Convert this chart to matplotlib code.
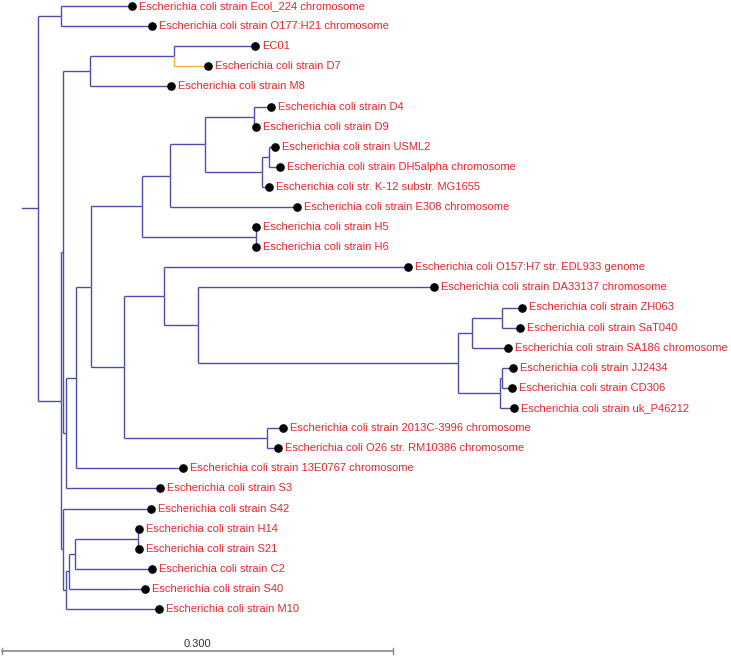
import matplotlib
matplotlib.use("Agg")
import matplotlib.pyplot as plt

# ---------------- data ----------------
tip_labels = [
    "Escherichia coli strain Ecol_224 chromosome",
    "Escherichia coli strain O177:H21 chromosome",
    "EC01",
    "Escherichia coli strain D7",
    "Escherichia coli strain M8",
    "Escherichia coli strain D4",
    "Escherichia coli strain D9",
    "Escherichia coli strain USML2",
    "Escherichia coli strain DH5alpha chromosome",
    "Escherichia coli str. K-12 substr. MG1655",
    "Escherichia coli strain E308 chromosome",
    "Escherichia coli strain H5",
    "Escherichia coli strain H6",
    "Escherichia coli O157:H7 str. EDL933 genome",
    "Escherichia coli strain DA33137 chromosome",
    "Escherichia coli strain ZH063",
    "Escherichia coli strain SaT040",
    "Escherichia coli strain SA186 chromosome",
    "Escherichia coli strain JJ2434",
    "Escherichia coli strain CD306",
    "Escherichia coli strain uk_P46212",
    "Escherichia coli strain 2013C-3996 chromosome",
    "Escherichia coli O26 str. RM10386 chromosome",
    "Escherichia coli strain 13E0767 chromosome",
    "Escherichia coli strain S3",
    "Escherichia coli strain S42",
    "Escherichia coli strain H14",
    "Escherichia coli strain S21",
    "Escherichia coli strain C2",
    "Escherichia coli strain S40",
    "Escherichia coli strain M10",
]

# tree topology with branch lengths (tips refer to tip_labels by index)
newick = (
    "((t0:0.0547,t1:0.0701):0.0176,"
    "((((t2:0.0621,t3:0.0263):0.0645,t4:0.0621):0.0207,"
    "(((((((t5:0.0128,t6:0.0015):0.0376,((t7:0.0048,t8:0.0084):0.0056,t9:0.0054):0.0435):0.0269,"
    "t10:0.0972):0.0217,(t11:0.0003,t12:0.0003):0.0875):0.0391,"
    "((t13:0.1877,(t14:0.1808,"
    "(((t15:0.0158,t16:0.0140):0.0230,t17:0.0281):0.0103,"
    "((t18:0.0087,t19:0.0074):0.0015,t20:0.0110):0.0320):0.1995):0.0265):0.0305,"
    "(t21:0.0123,t22:0.0089):0.1095):0.0256):0.0113,"
    "t23:0.0819):0.0077,t24:0.0724):0.0023):0.0015,"
    "(t25:0.0671,((((t26:0.0005,t27:0.0005):0.0486,t28:0.0591):0.0044,"
    "t29:0.0578):0.0028,t30:0.0718):0.0018):0.0018):0.0176):0.0123;"
)

highlighted_tips = ["Escherichia coli strain D7"]
scale_length = 0.300
scale_label = "0.300"

# ---------------- styles ----------------
W, H, DPI = 731, 658, 100
BRANCH_COLOR = "#4d4db0"
HIGHLIGHT_COLOR = "#f2b437"
LABEL_COLOR = "#e8242c"
SCALE_COLOR = "#8a8a8a"
FONT = "Liberation Sans"
FONTSIZE = 8


# ---------------- newick parsing ----------------
def parse_newick(s):
    s = s.strip().rstrip(";")
    pos = [0]

    def node():
        n = {"children": [], "name": None, "length": 0.0}
        if s[pos[0]] == "(":
            pos[0] += 1
            n["children"].append(node())
            while s[pos[0]] == ",":
                pos[0] += 1
                n["children"].append(node())
            pos[0] += 1  # ')'
        start = pos[0]
        while pos[0] < len(s) and s[pos[0]] not in ",():":
            pos[0] += 1
        name = s[start:pos[0]]
        if name:
            n["name"] = name
        if pos[0] < len(s) and s[pos[0]] == ":":
            pos[0] += 1
            start = pos[0]
            while pos[0] < len(s) and s[pos[0]] not in ",()":
                pos[0] += 1
            n["length"] = float(s[start:pos[0]])
        return n

    return node()


tree = parse_newick(newick)


def layout(n, x0=0.0, counter=[0]):
    n["x"] = x0
    if not n["children"]:
        idx = int(n["name"][1:])
        n["label"] = tip_labels[idx]
        n["y"] = float(counter[0])
        counter[0] += 1
    else:
        for c in n["children"]:
            layout(c, x0 + c["length"], counter)
        n["y"] = (n["children"][0]["y"] + n["children"][-1]["y"]) / 2.0


layout(tree, 0.0)

# ---------------- figure ----------------
fig = plt.figure(figsize=(W / DPI, H / DPI), dpi=DPI)
ax = fig.add_axes([0, 0, 1, 1])
ax.set_axis_off()

px_per_unit = 391 / 0.3
root_px = 38
ax.set_xlim(-root_px / px_per_unit, (W - root_px) / px_per_unit)
row_px = 20.1
top_px = 6
ax.set_ylim((H - top_px) / row_px, -top_px / row_px)

LW = 1.0


def draw(n):
    for c in n["children"]:
        col = HIGHLIGHT_COLOR if c.get("label") in highlighted_tips else BRANCH_COLOR
        ax.plot([n["x"], n["x"]], [n["y"], c["y"]], color=col, lw=LW,
                solid_capstyle="butt", zorder=2)
        ax.plot([n["x"], c["x"]], [c["y"], c["y"]], color=col, lw=LW,
                solid_capstyle="butt", zorder=2)
        draw(c)
    if not n["children"]:
        ax.plot(n["x"], n["y"], "o", color="black", ms=5.2, zorder=3)
        ax.annotate(n["label"], (n["x"], n["y"]), xytext=(5, 0),
                    textcoords="offset points", ha="left", va="center",
                    color=LABEL_COLOR, fontsize=FONTSIZE, family=FONT)


# root stub
ax.plot([-tree["length"], 0], [tree["y"], tree["y"]], color=BRANCH_COLOR, lw=LW)
draw(tree)

# scale bar
xl = ax.get_xlim()
sb_x0 = xl[0] + 2.3 / px_per_unit
sb_y = (651 - top_px) / row_px
ax.plot([sb_x0, sb_x0 + scale_length], [sb_y, sb_y], color=SCALE_COLOR, lw=1.2)
for xe in (sb_x0, sb_x0 + scale_length):
    ax.plot([xe, xe], [sb_y - 0.17, sb_y + 0.17], color=SCALE_COLOR, lw=1.0)
ax.annotate(scale_label, (sb_x0 + scale_length / 2, sb_y), xytext=(0, 1.5),
            textcoords="offset points", ha="center", va="bottom",
            color="#333333", fontsize=FONTSIZE, family=FONT)

fig.savefig("out.png", dpi=DPI)
